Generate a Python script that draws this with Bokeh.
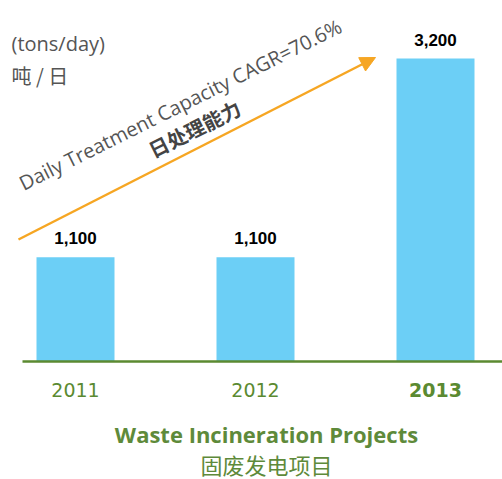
from bokeh.plotting import figure
from bokeh.models import Range1d, Label, Arrow, NormalHead, ColumnDataSource
from bokeh.embed import file_html
from bokeh.resources import INLINE

# ---- data ----
years = ["2011", "2012", "2013"]
capacity = [1100, 1100, 3200]
capacity_labels = ["1,100", "1,100", "3,200"]
year_styles = ["normal", "normal", "bold"]

title_en = "Waste Incineration Projects"
title_cn = "固废发电项目"
unit_en = "(tons/day)"
unit_cn = "吨 / 日"
cagr_en = "Daily Treatment Capacity CAGR=70.6%"
cagr_cn = "日处理能力"

# ---- layout helpers (pixel -> data), frame fills the whole canvas ----
W, H = 502, 479
OX, OY = 0, 0
BASE_PY = 361          # baseline pixel
STEP_PX = 180          # px per category
FIRST_PX = 75          # centre of first bar
PX_PER_UNIT = 303 / 3200

x0 = -(FIRST_PX - OX) / STEP_PX
x1 = x0 + W / STEP_PX
y0 = -(OY + H - BASE_PY) / PX_PER_UNIT
y1 = (BASE_PY - OY) / PX_PER_UNIT


def xd(px):
    return x0 + (px - OX) / STEP_PX


def yd(py):
    return (BASE_PY - py) / PX_PER_UNIT


p = figure(width=W, height=H, output_backend="svg", toolbar_location=None,
           x_range=Range1d(x0, x1), y_range=Range1d(y0, y1),
           min_border=0, min_border_left=0, min_border_right=0,
           min_border_top=0, min_border_bottom=0)
p.axis.visible = False
p.grid.visible = False
p.outline_line_color = None
p.background_fill_color = "white"

idx = list(range(len(years)))
src = ColumnDataSource(dict(x=idx, top=capacity, lab=capacity_labels,
                            year=years, style=year_styles))

GREEN = "#5b8a31"
TITLE_GREEN = "#5e8a3a"
BAR = "#6ccff6"
GREY = "#555555"
ORANGE = "#f6a623"

p.vbar(x="x", top="top", bottom=0, width=78 / STEP_PX, source=src,
       fill_color=BAR, line_color=None)

# baseline
p.segment(x0=[xd(22)], y0=[0], x1=[x1], y1=[0], line_color=GREEN, line_width=2.5)

# value labels
p.text(x="x", y="top", text="lab", source=src, text_align="center",
       text_baseline="bottom", y_offset=-13, text_font_size="17px",
       text_font_style="bold", text_color="black",
       text_font={"value": "Liberation Sans"})

# year labels
p.text(x="x", y=yd(389), text="year", source=src, text_align="center",
       text_baseline="middle", text_font_size="19px",
       text_font_style="style", text_color=GREEN,
       text_font={"value": "DejaVu Sans"})

# titles
p.add_layout(Label(x=xd(266), y=yd(433), text=title_en, text_align="center",
                   text_baseline="middle", text_font_size="22px",
                   text_font_style="bold", text_color=TITLE_GREEN,
                   text_font="Open Sans"))
p.add_layout(Label(x=xd(266), y=yd(463), text=title_cn, text_align="center",
                   text_baseline="middle", text_font_size="22px",
                   text_color=TITLE_GREEN, text_font="Noto Sans CJK SC"))

# unit labels
p.add_layout(Label(x=xd(11), y=yd(43), text=unit_en, text_align="left",
                   text_baseline="middle", text_font_size="20px",
                   text_color=GREY, text_font="Open Sans"))
p.add_layout(Label(x=xd(11), y=yd(75), text=unit_cn, text_align="left",
                   text_baseline="middle", text_font_size="20px",
                   text_color=GREY, text_font="Noto Sans CJK SC"))

# arrow
p.add_layout(Arrow(x_start=xd(18), y_start=yd(239), x_end=xd(375), y_end=yd(57),
                   line_color=ORANGE, line_width=2.5,
                   end=NormalHead(size=15, fill_color=ORANGE, line_color=ORANGE)))

# rotated texts
p.add_layout(Label(x=xd(180), y=yd(104), text=cagr_en, angle=26.5, angle_units="deg",
                   text_align="center", text_baseline="middle",
                   text_font_size="20px", text_color=GREY, text_font="Open Sans"))
p.add_layout(Label(x=xd(194), y=yd(128), text=cagr_cn, angle=26.5, angle_units="deg",
                   text_align="center", text_baseline="middle",
                   text_font_size="20px", text_font_style="bold",
                   text_color="#444444", text_font="Noto Sans CJK SC"))

open("out.html", "w").write(file_html(p, INLINE))
